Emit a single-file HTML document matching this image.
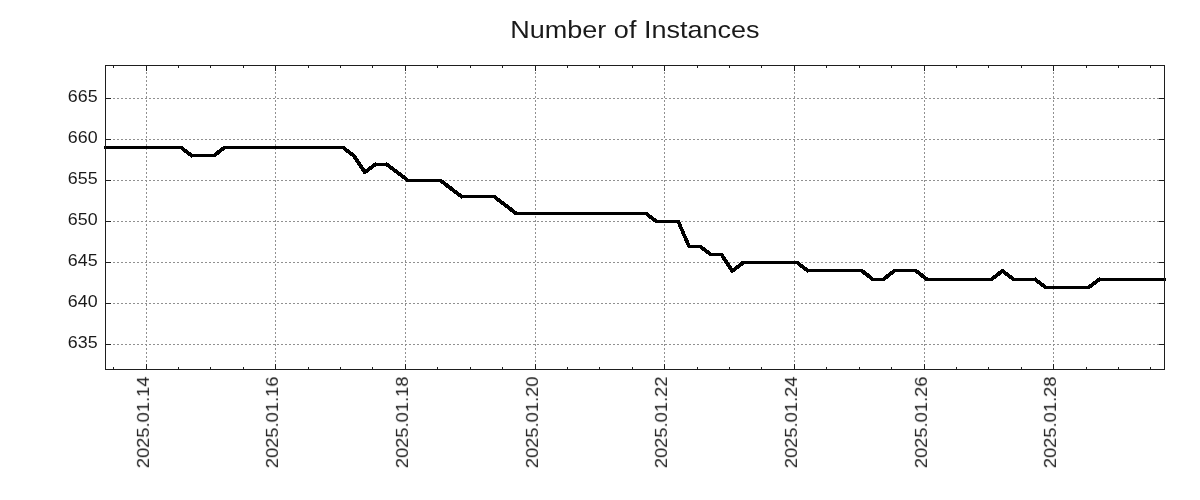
<!DOCTYPE html>
<html><head><meta charset="utf-8"><title>Number of Instances</title><style>
html,body{margin:0;padding:0;background:#fff;width:1200px;height:500px;overflow:hidden}
svg{display:block}
text{font-family:"Liberation Sans", sans-serif}
</style></head><body>
<svg width="1200" height="500" viewBox="0 0 1200 500">
<rect width="1200" height="500" fill="#fff"/>
<g stroke="#909090" stroke-width="1" stroke-dasharray="2 2" shape-rendering="crispEdges"><line x1="105" y1="344.5" x2="1165" y2="344.5"/><line x1="105" y1="303.5" x2="1165" y2="303.5"/><line x1="105" y1="262.5" x2="1165" y2="262.5"/><line x1="105" y1="221.5" x2="1165" y2="221.5"/><line x1="105" y1="180.5" x2="1165" y2="180.5"/><line x1="105" y1="139.5" x2="1165" y2="139.5"/><line x1="105" y1="98.5" x2="1165" y2="98.5"/><line x1="146.5" y1="370" x2="146.5" y2="65"/><line x1="275.5" y1="370" x2="275.5" y2="65"/><line x1="405.5" y1="370" x2="405.5" y2="65"/><line x1="535.5" y1="370" x2="535.5" y2="65"/><line x1="664.5" y1="370" x2="664.5" y2="65"/><line x1="794.5" y1="370" x2="794.5" y2="65"/><line x1="924.5" y1="370" x2="924.5" y2="65"/><line x1="1053.5" y1="370" x2="1053.5" y2="65"/></g>
<path fill="#000" shape-rendering="crispEdges" d="M104 146h79v1h-79zM223 146h122v1h-122zM104 147h80v1h-80zM221 147h125v1h-125zM104 148h81v1h-81zM220 148h127v1h-127zM181 149h6v1h-6zM219 149h6v1h-6zM343 149h6v1h-6zM182 150h6v1h-6zM217 150h7v1h-7zM344 150h6v1h-6zM183 151h6v1h-6zM216 151h6v1h-6zM345 151h6v1h-6zM184 152h7v1h-7zM215 152h6v1h-6zM346 152h7v1h-7zM186 153h6v1h-6zM214 153h6v1h-6zM348 153h6v1h-6zM187 154h32v1h-32zM349 154h6v1h-6zM188 155h29v1h-29zM350 155h6v1h-6zM190 156h26v1h-26zM352 156h5v1h-5zM191 157h1v1h-1zM353 157h4v1h-4zM353 158h5v1h-5zM354 159h5v1h-5zM355 160h4v1h-4zM355 161h5v1h-5zM356 162h5v1h-5zM375 162h1v1h-1zM386 162h1v1h-1zM357 163h4v1h-4zM373 163h16v1h-16zM357 164h5v1h-5zM372 164h18v1h-18zM358 165h5v1h-5zM371 165h20v1h-20zM359 166h4v1h-4zM369 166h7v1h-7zM386 166h7v1h-7zM359 167h5v1h-5zM368 167h6v1h-6zM388 167h6v1h-6zM360 168h5v1h-5zM367 168h6v1h-6zM389 168h6v1h-6zM361 169h11v1h-11zM390 169h7v1h-7zM361 170h9v1h-9zM392 170h6v1h-6zM362 171h7v1h-7zM393 171h6v1h-6zM363 172h5v1h-5zM394 172h7v1h-7zM363 173h3v1h-3zM396 173h6v1h-6zM397 174h6v1h-6zM398 175h7v1h-7zM400 176h6v1h-6zM401 177h6v1h-6zM402 178h6v1h-6zM404 179h38v1h-38zM405 180h39v1h-39zM406 181h39v1h-39zM440 182h6v1h-6zM441 183h7v1h-7zM443 184h6v1h-6zM444 185h6v1h-6zM445 186h7v1h-7zM446 187h7v1h-7zM448 188h6v1h-6zM449 189h6v1h-6zM450 190h7v1h-7zM452 191h6v1h-6zM453 192h6v1h-6zM454 193h7v1h-7zM456 194h6v1h-6zM457 195h39v1h-39zM458 196h39v1h-39zM460 197h38v1h-38zM461 198h1v1h-1zM494 198h6v1h-6zM495 199h6v1h-6zM496 200h6v1h-6zM497 201h7v1h-7zM499 202h6v1h-6zM500 203h6v1h-6zM501 204h7v1h-7zM503 205h6v1h-6zM504 206h6v1h-6zM505 207h7v1h-7zM507 208h6v1h-6zM508 209h6v1h-6zM509 210h6v1h-6zM510 211h7v1h-7zM512 212h136v1h-136zM513 213h136v1h-136zM514 214h136v1h-136zM646 215h6v1h-6zM647 216h6v1h-6zM648 217h6v1h-6zM649 218h7v1h-7zM651 219h6v1h-6zM652 220h28v1h-28zM653 221h27v1h-27zM655 222h26v1h-26zM677 223h4v1h-4zM678 224h4v1h-4zM678 225h4v1h-4zM678 226h4v1h-4zM679 227h4v1h-4zM679 228h4v1h-4zM680 229h4v1h-4zM680 230h4v1h-4zM681 231h4v1h-4zM681 232h4v1h-4zM681 233h4v1h-4zM682 234h4v1h-4zM682 235h4v1h-4zM683 236h4v1h-4zM683 237h4v1h-4zM684 238h4v1h-4zM684 239h4v1h-4zM684 240h5v1h-5zM685 241h4v1h-4zM685 242h4v1h-4zM686 243h4v1h-4zM686 244h4v1h-4zM687 245h15v1h-15zM687 246h16v1h-16zM688 247h17v1h-17zM700 248h6v1h-6zM701 249h6v1h-6zM702 250h7v1h-7zM704 251h6v1h-6zM705 252h6v1h-6zM706 253h17v1h-17zM708 254h16v1h-16zM709 255h15v1h-15zM721 256h4v1h-4zM721 257h5v1h-5zM722 258h4v1h-4zM722 259h5v1h-5zM723 260h5v1h-5zM724 261h4v1h-4zM741 261h58v1h-58zM724 262h5v1h-5zM740 262h60v1h-60zM725 263h5v1h-5zM739 263h62v1h-62zM726 264h4v1h-4zM738 264h6v1h-6zM797 264h6v1h-6zM726 265h5v1h-5zM736 265h7v1h-7zM798 265h6v1h-6zM727 266h5v1h-5zM735 266h6v1h-6zM799 266h6v1h-6zM728 267h4v1h-4zM734 267h6v1h-6zM800 267h7v1h-7zM728 268h11v1h-11zM802 268h6v1h-6zM729 269h8v1h-8zM803 269h60v1h-60zM893 269h24v1h-24zM1001 269h3v1h-3zM730 270h6v1h-6zM804 270h61v1h-61zM892 270h27v1h-27zM1000 270h5v1h-5zM730 271h5v1h-5zM806 271h60v1h-60zM890 271h30v1h-30zM998 271h8v1h-8zM731 272h2v1h-2zM807 272h1v1h-1zM861 272h6v1h-6zM889 272h6v1h-6zM915 272h6v1h-6zM997 272h11v1h-11zM862 273h7v1h-7zM888 273h6v1h-6zM916 273h7v1h-7zM996 273h6v1h-6zM1003 273h6v1h-6zM863 274h7v1h-7zM886 274h7v1h-7zM918 274h6v1h-6zM995 274h6v1h-6zM1004 274h6v1h-6zM865 275h6v1h-6zM885 275h6v1h-6zM919 275h6v1h-6zM993 275h7v1h-7zM1005 275h7v1h-7zM866 276h6v1h-6zM884 276h6v1h-6zM920 276h6v1h-6zM992 276h6v1h-6zM1007 276h6v1h-6zM867 277h6v1h-6zM883 277h6v1h-6zM921 277h7v1h-7zM991 277h6v1h-6zM1008 277h6v1h-6zM1035 277h1v1h-1zM1099 277h1v1h-1zM869 278h19v1h-19zM923 278h73v1h-73zM1009 278h28v1h-28zM1097 278h69v1h-69zM870 279h16v1h-16zM924 279h70v1h-70zM1011 279h27v1h-27zM1096 279h70v1h-70zM871 280h14v1h-14zM925 280h68v1h-68zM1012 280h28v1h-28zM1095 280h71v1h-71zM1035 281h6v1h-6zM1093 281h7v1h-7zM1036 282h6v1h-6zM1092 282h6v1h-6zM1037 283h7v1h-7zM1091 283h6v1h-6zM1039 284h6v1h-6zM1089 284h7v1h-7zM1040 285h6v1h-6zM1088 285h6v1h-6zM1041 286h52v1h-52zM1043 287h49v1h-49zM1044 288h46v1h-46z"/>
<g fill="#1e1e1e" shape-rendering="crispEdges"><rect x="105" y="65" width="1060" height="1"/><rect x="105" y="369" width="1060" height="1"/><rect x="105" y="65" width="1" height="305"/><rect x="1164" y="65" width="1" height="305"/><rect x="146" y="66" width="1" height="5"/><rect x="146" y="364" width="1" height="5"/><rect x="275" y="66" width="1" height="5"/><rect x="275" y="364" width="1" height="5"/><rect x="405" y="66" width="1" height="5"/><rect x="405" y="364" width="1" height="5"/><rect x="535" y="66" width="1" height="5"/><rect x="535" y="364" width="1" height="5"/><rect x="664" y="66" width="1" height="5"/><rect x="664" y="364" width="1" height="5"/><rect x="794" y="66" width="1" height="5"/><rect x="794" y="364" width="1" height="5"/><rect x="924" y="66" width="1" height="5"/><rect x="924" y="364" width="1" height="5"/><rect x="1053" y="66" width="1" height="5"/><rect x="1053" y="364" width="1" height="5"/><rect x="113" y="66" width="1" height="2"/><rect x="113" y="367" width="1" height="2"/><rect x="178" y="66" width="1" height="2"/><rect x="178" y="367" width="1" height="2"/><rect x="210" y="66" width="1" height="2"/><rect x="210" y="367" width="1" height="2"/><rect x="243" y="66" width="1" height="2"/><rect x="243" y="367" width="1" height="2"/><rect x="308" y="66" width="1" height="2"/><rect x="308" y="367" width="1" height="2"/><rect x="340" y="66" width="1" height="2"/><rect x="340" y="367" width="1" height="2"/><rect x="372" y="66" width="1" height="2"/><rect x="372" y="367" width="1" height="2"/><rect x="437" y="66" width="1" height="2"/><rect x="437" y="367" width="1" height="2"/><rect x="470" y="66" width="1" height="2"/><rect x="470" y="367" width="1" height="2"/><rect x="502" y="66" width="1" height="2"/><rect x="502" y="367" width="1" height="2"/><rect x="567" y="66" width="1" height="2"/><rect x="567" y="367" width="1" height="2"/><rect x="599" y="66" width="1" height="2"/><rect x="599" y="367" width="1" height="2"/><rect x="632" y="66" width="1" height="2"/><rect x="632" y="367" width="1" height="2"/><rect x="697" y="66" width="1" height="2"/><rect x="697" y="367" width="1" height="2"/><rect x="729" y="66" width="1" height="2"/><rect x="729" y="367" width="1" height="2"/><rect x="761" y="66" width="1" height="2"/><rect x="761" y="367" width="1" height="2"/><rect x="826" y="66" width="1" height="2"/><rect x="826" y="367" width="1" height="2"/><rect x="859" y="66" width="1" height="2"/><rect x="859" y="367" width="1" height="2"/><rect x="891" y="66" width="1" height="2"/><rect x="891" y="367" width="1" height="2"/><rect x="956" y="66" width="1" height="2"/><rect x="956" y="367" width="1" height="2"/><rect x="988" y="66" width="1" height="2"/><rect x="988" y="367" width="1" height="2"/><rect x="1021" y="66" width="1" height="2"/><rect x="1021" y="367" width="1" height="2"/><rect x="1086" y="66" width="1" height="2"/><rect x="1086" y="367" width="1" height="2"/><rect x="1118" y="66" width="1" height="2"/><rect x="1118" y="367" width="1" height="2"/><rect x="1150" y="66" width="1" height="2"/><rect x="1150" y="367" width="1" height="2"/><rect x="106" y="344" width="5" height="1"/><rect x="1159" y="344" width="5" height="1"/><rect x="106" y="303" width="5" height="1"/><rect x="1159" y="303" width="5" height="1"/><rect x="106" y="262" width="5" height="1"/><rect x="1159" y="262" width="5" height="1"/><rect x="106" y="221" width="5" height="1"/><rect x="1159" y="221" width="5" height="1"/><rect x="106" y="180" width="5" height="1"/><rect x="1159" y="180" width="5" height="1"/><rect x="106" y="139" width="5" height="1"/><rect x="1159" y="139" width="5" height="1"/><rect x="106" y="98" width="5" height="1"/><rect x="1159" y="98" width="5" height="1"/></g>
<g fill="#1a1a1a" opacity="0.999" font-family="Liberation Sans, sans-serif"><text x="510.3" y="37.8" font-size="24.6" textLength="249.2" lengthAdjust="spacingAndGlyphs">Number of Instances</text><text x="67.80" y="101.60" font-size="16.4" textLength="29.8" lengthAdjust="spacingAndGlyphs">665</text><text x="67.80" y="142.68" font-size="16.4" textLength="29.8" lengthAdjust="spacingAndGlyphs">660</text><text x="67.80" y="183.76" font-size="16.4" textLength="29.8" lengthAdjust="spacingAndGlyphs">655</text><text x="67.80" y="224.84" font-size="16.4" textLength="29.8" lengthAdjust="spacingAndGlyphs">650</text><text x="67.80" y="265.92" font-size="16.4" textLength="29.8" lengthAdjust="spacingAndGlyphs">645</text><text x="67.80" y="307.01" font-size="16.4" textLength="29.8" lengthAdjust="spacingAndGlyphs">640</text><text x="67.80" y="348.09" font-size="16.4" textLength="29.8" lengthAdjust="spacingAndGlyphs">635</text><text transform="translate(148.90,468.2) rotate(-90)" font-size="16.4" textLength="91.6" lengthAdjust="spacingAndGlyphs">2025.01.14</text><text transform="translate(277.90,468.2) rotate(-90)" font-size="16.4" textLength="91.6" lengthAdjust="spacingAndGlyphs">2025.01.16</text><text transform="translate(407.90,468.2) rotate(-90)" font-size="16.4" textLength="91.6" lengthAdjust="spacingAndGlyphs">2025.01.18</text><text transform="translate(537.90,468.2) rotate(-90)" font-size="16.4" textLength="91.6" lengthAdjust="spacingAndGlyphs">2025.01.20</text><text transform="translate(666.90,468.2) rotate(-90)" font-size="16.4" textLength="91.6" lengthAdjust="spacingAndGlyphs">2025.01.22</text><text transform="translate(796.90,468.2) rotate(-90)" font-size="16.4" textLength="91.6" lengthAdjust="spacingAndGlyphs">2025.01.24</text><text transform="translate(926.90,468.2) rotate(-90)" font-size="16.4" textLength="91.6" lengthAdjust="spacingAndGlyphs">2025.01.26</text><text transform="translate(1055.90,468.2) rotate(-90)" font-size="16.4" textLength="91.6" lengthAdjust="spacingAndGlyphs">2025.01.28</text></g>
</svg>
</body></html>
